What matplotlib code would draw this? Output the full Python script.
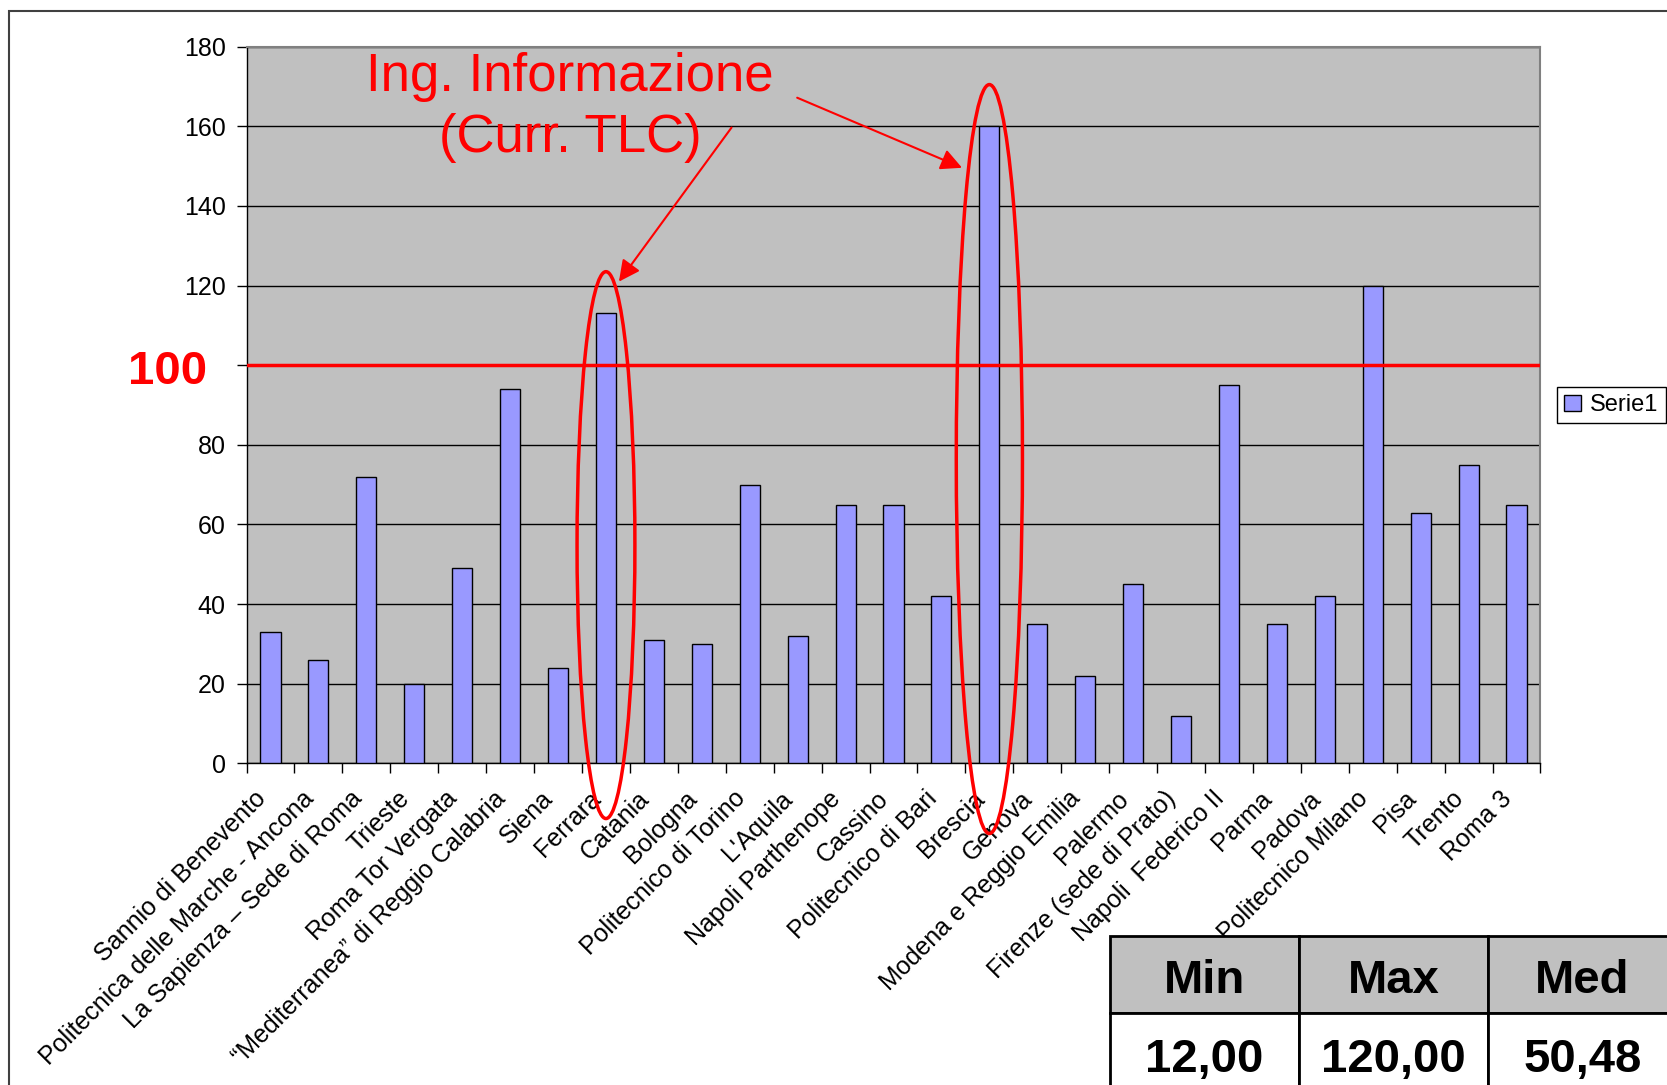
import matplotlib
matplotlib.use('Agg')
import matplotlib.pyplot as plt
from matplotlib.patches import Ellipse, Rectangle
from matplotlib.transforms import ScaledTranslation
import numpy as np

universities = ['Sannio di Benevento', 'Politecnica delle Marche - Ancona',
                'La Sapienza – Sede di Roma', 'Trieste', 'Roma Tor Vergata',
                '“Mediterranea” di Reggio Calabria', 'Siena', 'Ferrara', 'Catania',
                'Bologna', 'Politecnico di Torino', "L'Aquila", 'Napoli Parthenope',
                'Cassino', 'Politecnico di Bari', 'Brescia', 'Genova',
                'Modena e Reggio Emilia', 'Palermo', 'Firenze (sede di Prato)',
                'Napoli  Federico II', 'Parma', 'Padova', 'Politecnico Milano',
                'Pisa', 'Trento', 'Roma 3']
values = [33, 26, 72, 20, 49, 94, 24, 113, 31, 30, 70, 32, 65, 65, 42,
          160, 35, 22, 45, 12, 95, 35, 42, 120, 63, 75, 65]
threshold = 100
highlighted = ['Ferrara', 'Brescia']
stat_names = ['Min', 'Max', 'Med']
stat_values = ['12,00', '120,00', '50,48']

plt.rcParams['font.family'] = ['Liberation Sans', 'DejaVu Sans']

W, H = 1667, 1085
fig = plt.figure(figsize=(W / 100, H / 100), dpi=100)
ax = fig.add_axes([0.1479, 0.2965, 0.7762, 0.6604])

x = np.arange(len(universities))
ax.set_facecolor('#c0c0c0')
ax.bar(x, values, width=0.42, color='#9999ff', edgecolor='black',
       linewidth=1, label='Serie1', zorder=3)
ax.set_xlim(-0.5, len(universities) - 0.5)
ax.set_ylim(0, 180)
yticks = list(range(0, 181, 20))
ax.set_yticks(yticks)
# the 100 tick label is replaced by the big red one
ax.set_yticklabels(['' if t == threshold else str(t) for t in yticks])
ax.yaxis.grid(True, color='black', linewidth=1)
ax.set_axisbelow(True)

ax.set_xticks(x)
ax.set_xticklabels(universities, rotation=45, ha='right', va='top',
                   rotation_mode='anchor', fontsize=18)
ax.set_xticks(np.arange(-0.5, len(universities)), minor=True)
ax.tick_params(axis='x', which='major', length=0, pad=8)
ax.tick_params(axis='x', which='minor', length=7, width=1, color='black')
ax.tick_params(axis='y', length=7, width=1, labelsize=18, pad=8)

# nudge the slanted labels down-left like the original
shift = ScaledTranslation(-0.17, -0.12, fig.dpi_scale_trans)
for lab in ax.get_xticklabels():
    lab.set_transform(lab.get_transform() + shift)

for s in ['top', 'right']:
    ax.spines[s].set_color('#808080')
    ax.spines[s].set_linewidth(1.5)
for s in ['left', 'bottom']:
    ax.spines[s].set_color('black')
    ax.spines[s].set_linewidth(1)

# threshold line and label
ax.axhline(threshold, color='red', linewidth=2.5, zorder=4)
ax.annotate(str(threshold), xy=(-0.061, threshold),
            xycoords=ax.get_yaxis_transform(), xytext=(0, -5),
            textcoords='offset points', ha='center', va='center',
            color='red', fontsize=34, fontweight='bold')

# highlight ellipses
for name in highlighted:
    i = universities.index(name)
    top = values[i] + 10.5
    bottom = -(0.08 * top + 4)
    e = Ellipse((i, (top + bottom) / 2), 0.75 + 0.0037 * top, top - bottom,
                fill=False, edgecolor='red', linewidth=2.5, zorder=5,
                clip_on=False)
    ax.add_patch(e)

# annotation
ax.text(6.25, 164.7, 'Ing. Informazione\n(Curr. TLC)', ha='center', va='center',
        color='red', fontsize=38, linespacing=1.27, zorder=6)
arrow = dict(arrowstyle='-|>', color='red', lw=1.5, mutation_scale=32,
             shrinkA=0, shrinkB=0)
ax.annotate('', xy=(7.27, 121), xytext=(9.62, 159.7), arrowprops=arrow, zorder=6)
ax.annotate('', xy=(14.43, 149.6), xytext=(10.99, 167.2), arrowprops=arrow, zorder=6)

leg = ax.legend(loc='center left', bbox_to_anchor=(1.013, 0.5), fancybox=False,
                edgecolor='black', fontsize=17, handlelength=0.7, handleheight=0.7,
                handletextpad=0.4, borderpad=0.3, borderaxespad=0, framealpha=1)
leg.get_frame().set_linewidth(1)

# outer frame
fig.add_artist(Rectangle((9 / W, -0.1), 1.2, 1 - 11 / H + 0.1, fill=False,
                         edgecolor='#404040', linewidth=1.5,
                         transform=fig.transFigure))

# stats table
col_w = 189
left = 1110
head_top, head_bot, row_bot = 935.5, 1013, 1095
for k, (name, val) in enumerate(zip(stat_names, stat_values)):
    x0 = left + k * col_w
    fig.add_artist(Rectangle((x0 / W, 1 - head_bot / H), col_w / W,
                             (head_bot - head_top) / H, facecolor='#c0c0c0',
                             edgecolor='black', linewidth=2,
                             transform=fig.transFigure))
    fig.add_artist(Rectangle((x0 / W, 1 - row_bot / H), col_w / W,
                             (row_bot - head_bot) / H, facecolor='white',
                             edgecolor='black', linewidth=2,
                             transform=fig.transFigure))
    fig.text((x0 + col_w / 2) / W, 1 - 981 / H, name, ha='center', va='center',
             fontsize=34, fontweight='bold')
    fig.text((x0 + col_w / 2) / W, 1 - 1060 / H, val, ha='center', va='center',
             fontsize=34, fontweight='bold')

fig.savefig('out.png', dpi=100)
